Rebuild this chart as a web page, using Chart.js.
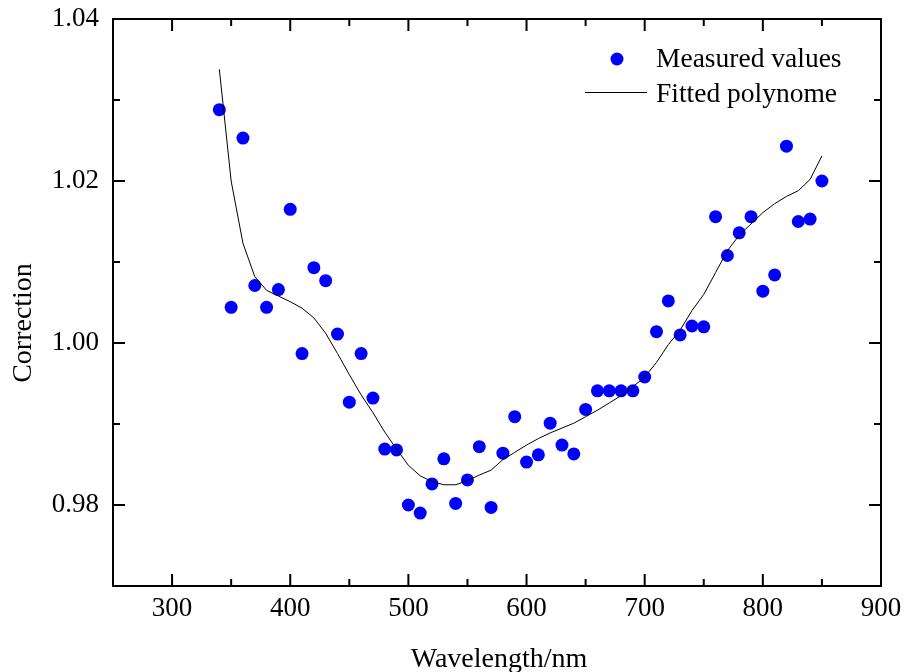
<!DOCTYPE html>
<html><head><meta charset="utf-8">
<script src="https://cdn.jsdelivr.net/npm/chart.js@4/dist/chart.umd.min.js"></script>
<style>html,body{margin:0;padding:0;background:#fff;overflow:hidden;} #wrap{width:904px;height:672px;}</style>
</head><body>
<div id="wrap"><canvas id="c" width="904" height="672"></canvas></div>
<script>
const wavelengths = [340,350,360,370,380,390,400,410,420,430,440,450,460,470,480,490,500,510,520,530,540,550,560,570,580,590,600,610,620,630,640,650,660,670,680,690,700,710,720,730,740,750,760,770,780,790,800,810,820,830,840,850];
const measuredValues = [1.0288,1.0044,1.0253,1.0071,1.0044,1.0066,1.0165,0.9987,1.0093,1.0077,1.0011,0.9927,0.9987,0.9932,0.9869,0.9868,0.9800,0.9790,0.9826,0.9857,0.9802,0.9831,0.9872,0.9797,0.9864,0.9909,0.9853,0.9862,0.9901,0.9874,0.9863,0.9918,0.9941,0.9941,0.9941,0.9941,0.9958,1.0014,1.0052,1.0010,1.0021,1.0020,1.0156,1.0108,1.0136,1.0156,1.0064,1.0084,1.0243,1.0150,1.0153,1.0200];
const fittedPolynome = [1.0338,1.0200,1.0123,1.0082,1.0065,1.0058,1.0051,1.0043,1.0031,1.0012,0.9987,0.9961,0.9936,0.9914,0.9890,0.9869,0.9849,0.9836,0.9829,0.9825,0.9825,0.9830,0.9837,0.9843,0.9856,0.9865,0.9874,0.9882,0.9889,0.9895,0.9901,0.9909,0.9917,0.9926,0.9935,0.9946,0.9958,0.9976,0.9998,1.0016,1.0040,1.0060,1.0087,1.0114,1.0133,1.0147,1.0161,1.0172,1.0181,1.0188,1.0202,1.0231];
const xMajorTicks = [300,400,500,600,700,800,900];
const xMinorTicks = [350,450,550,650,750,850];
const yMajorTicks = [0.98,1.00,1.02,1.04];
const yMinorTicks = [0.99,1.01,1.03];
const seriesNames = ['Measured values','Fitted polynome'];
const xTitle = 'Wavelength/nm';
const yTitle = 'Correction';

const FONT = 'Liberation Serif, Times New Roman, serif';

const framePlugin = {
  id: 'frame',
  afterDraw(chart) {
    const ctx = chart.ctx;
    const a = chart.chartArea;
    const xs = chart.scales.x, ys = chart.scales.y;
    ctx.save();
    ctx.strokeStyle = '#000';
    ctx.lineWidth = 2;
    ctx.strokeRect(a.left, a.top, a.right - a.left, a.bottom - a.top);
    const major = 12, minor = 7;
    ctx.beginPath();
    const xt = (v, len) => {
      const p = xs.getPixelForValue(v);
      ctx.moveTo(p, a.bottom); ctx.lineTo(p, a.bottom - len);
      ctx.moveTo(p, a.top); ctx.lineTo(p, a.top + len);
    };
    const yt = (v, len) => {
      const p = ys.getPixelForValue(v);
      ctx.moveTo(a.left, p); ctx.lineTo(a.left + len, p);
      ctx.moveTo(a.right, p); ctx.lineTo(a.right - len, p);
    };
    xMajorTicks.forEach(v => xt(v, major));
    xMinorTicks.forEach(v => xt(v, minor));
    yMajorTicks.forEach(v => yt(v, major));
    yMinorTicks.forEach(v => yt(v, minor));
    ctx.stroke();

    // axis titles
    ctx.fillStyle = '#000';
    ctx.font = '28px ' + FONT;
    ctx.textAlign = 'center';
    ctx.textBaseline = 'alphabetic';
    ctx.fillText(xTitle, 499, 667);
    ctx.save();
    ctx.translate(31, 323);
    ctx.rotate(-Math.PI / 2);
    ctx.fillText(yTitle, 0, 0);
    ctx.restore();

    // legend
    const ds0 = chart.data.datasets[1], ds1 = chart.data.datasets[0];
    ctx.fillStyle = ds0.backgroundColor;
    ctx.beginPath();
    ctx.arc(617, 59, ds0.pointRadius, 0, Math.PI * 2);
    ctx.fill();
    ctx.strokeStyle = ds1.borderColor;
    ctx.lineWidth = ds1.borderWidth;
    ctx.beginPath();
    ctx.moveTo(585, 92.5); ctx.lineTo(647, 92.5);
    ctx.stroke();
    ctx.fillStyle = '#000';
    ctx.textAlign = 'left';
    ctx.font = '27.5px ' + FONT;
    ctx.fillText(ds0.label, 656, 66.7);
    ctx.fillText(ds1.label, 656, 101.7);
    ctx.restore();
  }
};

const zeroPad = s => { s.paddingTop = 0; s.paddingBottom = 0; s.paddingLeft = 0; s.paddingRight = 0; };

new Chart(document.getElementById('c'), {
  type: 'scatter',
  data: {
    datasets: [
      {
        label: seriesNames[1],
        data: wavelengths.map((x, i) => ({x: x, y: fittedPolynome[i]})),
        showLine: true,
        borderColor: '#000000',
        borderWidth: 1,
        pointRadius: 0,
        tension: 0,
        fill: false,
        order: 0
      },
      {
        label: seriesNames[0],
        data: wavelengths.map((x, i) => ({x: x, y: measuredValues[i]})),
        showLine: false,
        backgroundColor: '#0000ff',
        borderColor: '#0000ff',
        borderWidth: 0,
        pointRadius: 6.5,
        order: 1
      }
    ]
  },
  options: {
    responsive: false,
    animation: false,
    devicePixelRatio: 1,
    layout: {padding: {top: 19, right: 23, left: 0, bottom: 0}},
    plugins: {legend: {display: false}, tooltip: {enabled: false}},
    scales: {
      x: {
        type: 'linear', min: 250, max: 900,
        afterBuildTicks: s => { s.ticks = xMajorTicks.map(v => ({value: v})); },
        afterFit: s => { s.height = 86; zeroPad(s); },
        grid: {display: false, drawTicks: false},
        border: {display: false},
        ticks: {font: {family: FONT, size: 27}, color: '#000', padding: 7, maxRotation: 0, autoSkip: false, callback: v => String(v)}
      },
      y: {
        type: 'linear', min: 0.97, max: 1.04,
        afterBuildTicks: s => { s.ticks = yMajorTicks.map(v => ({value: v})); },
        afterFit: s => { s.width = 113; zeroPad(s); },
        grid: {display: false, drawTicks: false},
        border: {display: false},
        ticks: {font: {family: FONT, size: 27}, color: '#000', padding: 14, autoSkip: false, callback: v => Number(v).toFixed(2)}
      }
    }
  },
  plugins: [framePlugin]
});
</script>
</body></html>
